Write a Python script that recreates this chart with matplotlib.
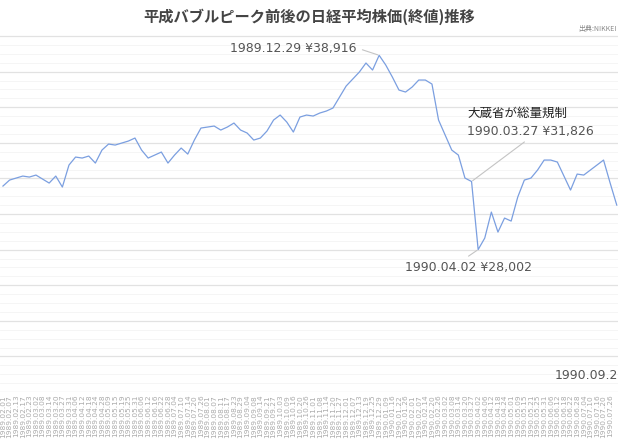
import matplotlib
matplotlib.use("Agg")
import matplotlib.pyplot as plt
import numpy as np

plt.rcParams["font.family"] = ["Noto Sans CJK JP", "DejaVu Sans"]

# tick labels (every 4th trading day) and closing values
dates = [
    "1989.02.01", "1989.02.07", "1989.02.13", "1989.02.17", "1989.02.23", "1989.03.02",
    "1989.03.08", "1989.03.14", "1989.03.20", "1989.03.27", "1989.03.31", "1989.04.06",
    "1989.04.12", "1989.04.18", "1989.04.24", "1989.04.28", "1989.05.09", "1989.05.15",
    "1989.05.19", "1989.05.25", "1989.05.31", "1989.06.06", "1989.06.12", "1989.06.16",
    "1989.06.22", "1989.06.28", "1989.07.04", "1989.07.10", "1989.07.14", "1989.07.20",
    "1989.07.26", "1989.08.01", "1989.08.07", "1989.08.11", "1989.08.17", "1989.08.23",
    "1989.08.29", "1989.09.04", "1989.09.08", "1989.09.14", "1989.09.21", "1989.09.27",
    "1989.10.03", "1989.10.09", "1989.10.16", "1989.10.20", "1989.10.26", "1989.11.01",
    "1989.11.08", "1989.11.14", "1989.11.20", "1989.11.27", "1989.12.01", "1989.12.07",
    "1989.12.13", "1989.12.19", "1989.12.25", "1989.12.29", "1990.01.09", "1990.01.16",
    "1990.01.22", "1990.01.26", "1990.02.01", "1990.02.07", "1990.02.14", "1990.02.20",
    "1990.02.26", "1990.03.02", "1990.03.08", "1990.03.14", "1990.03.20", "1990.03.27",
    "1990.04.02", "1990.04.06", "1990.04.12", "1990.04.18", "1990.04.24", "1990.05.01",
    "1990.05.09", "1990.05.15", "1990.05.21", "1990.05.25", "1990.05.31", "1990.06.06",
    "1990.06.12", "1990.06.18", "1990.06.22", "1990.06.28", "1990.07.04", "1990.07.10",
    "1990.07.16", "1990.07.20", "1990.07.26", "1990.07.31",
]
closes = [
    31570, 31907, 32020, 32132, 32076, 32188, 31963, 31739, 32132, 31514,
    32750, 33200, 33144, 33256, 32863, 33593, 33930, 33874, 33987, 34099,
    34268, 33593, 33144, 33312, 33481, 32863, 33312, 33706, 33368, 34155,
    34830, 34886, 34942, 34717, 34886, 35111, 34717, 34549, 34155, 34268,
    34661, 35279, 35560, 35167, 34605, 35448, 35560, 35504, 35673, 35785,
    35954, 36572, 37190, 37583, 37977, 38483, 38089, 38916, 38370, 37696,
    36965, 36853, 37134, 37527, 37527, 37302, 35279, 34436, 33593, 33312,
    32020, 31826, 28002, 28648, 30109, 28985, 29772, 29603, 30952, 31907,
    32020, 32469, 33031, 33031, 32919, 32132, 31345, 32244, 32188, 32469,
    32750, 33031, 31739, 30502,
]

H = 440


def fy(y):
    # figure pixel from top-left y
    return H - y


fig = plt.figure(figsize=(6.18, 4.4), dpi=100)
ax = fig.add_axes([0, 48 / 440, 1, 372 / 440])

x = np.arange(len(closes))
ax.plot(x, closes, color="#7b9fe0", linewidth=0.9)

ax.set_xlim(-0.45, 93.19)
ax.set_ylim(20000, 40900)
ax.set_yticks(np.arange(20000, 40001, 2000))
ax.set_yticks(np.arange(20000, 40001, 500), minor=True)
ax.grid(axis="y", which="major", color="#e2e2e2", linewidth=0.9)
ax.grid(axis="y", which="minor", color="#f4f4f4", linewidth=0.6)
ax.tick_params(axis="y", which="both", left=False, labelleft=False)
ax.set_xticks(x[:93])
ax.set_xticklabels(dates[:93], rotation=90, fontsize=5.3, color="#aaaaaa",
                   family="DejaVu Sans")
ax.tick_params(axis="x", length=0, pad=2)
for s in ax.spines.values():
    s.set_visible(False)

# annotations
ann = dict(fontsize=9, color="#555555", family="DejaVu Sans")
line = dict(arrowstyle="-", color="#c4c4c4", lw=0.8, shrinkA=2, shrinkB=1)
ax.annotate("1989.12.29 ¥38,916", xy=(57, closes[57]), xytext=(357, fy(48)),
            textcoords="figure pixels", ha="right", va="center",
            arrowprops=dict(line, relpos=(1, 0.5)), **ann)
fig.text(467 / 618, 1 - 113 / 440, "大蔵省が総量規制", fontsize=9,
         color="#222222", va="center")
ax.annotate("1990.03.27 ¥31,826", xy=(71, closes[71]), xytext=(467, fy(131)),
            textcoords="figure pixels", ha="left", va="center",
            arrowprops=dict(line, relpos=(0.5, 0)), **ann)
ax.annotate("1990.04.02 ¥28,002", xy=(72, closes[72]), xytext=(405, fy(267)),
            textcoords="figure pixels", ha="left", va="center",
            arrowprops=dict(line, relpos=(0.45, 1)), **ann)
fig.text(555 / 618, 1 - 375 / 440, "1990.09.28", va="center", ha="left", **ann)

fig.text(0.5, 1 - 17 / 440, "平成バブルピーク前後の日経平均株価(終値)推移",
         ha="center", va="center", fontsize=11, fontweight="bold", color="#444444")
fig.text(578 / 618, 1 - 29 / 440, "出典:NIKKEI", fontsize=5, color="#888888",
         va="center", ha="left")

fig.savefig("out.png", dpi=100, facecolor="white")
